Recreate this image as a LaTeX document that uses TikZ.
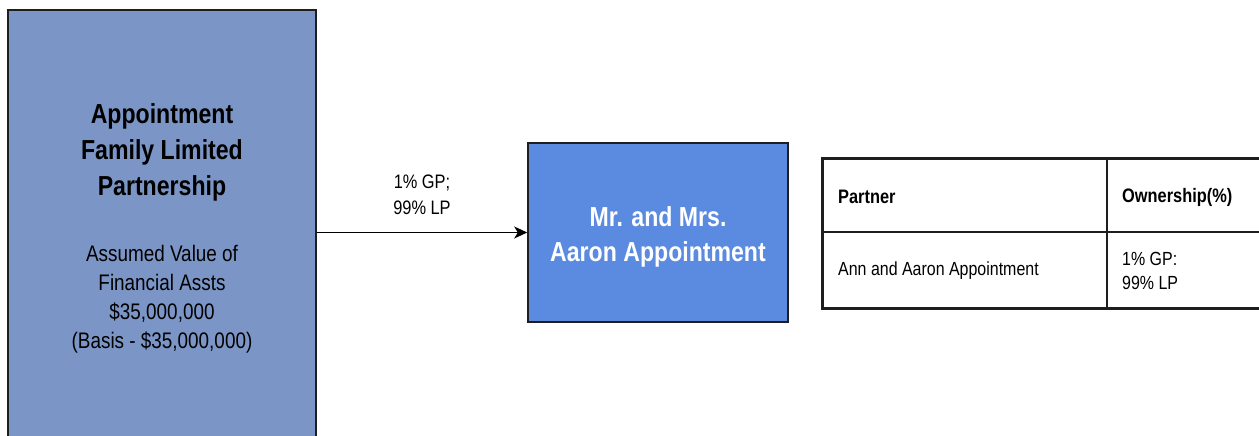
\documentclass[tikz,border=0pt]{standalone}
\usepackage{fontspec}
\setmainfont{Liberation Sans}[FakeStretch=0.84]
\usetikzlibrary{arrows.meta}
\definecolor{famfill}{HTML}{7B96C6}
\definecolor{aaronfill}{HTML}{5B8BE0}
\definecolor{edge}{HTML}{1E1E1E}
\tikzset{
  entity/.style={draw=edge, line width=1.5pt, inner sep=0pt},
  title/.style={font=\bfseries\fontsize{27.5}{36}\selectfont, align=center},
  body/.style={font=\fontsize{22.5}{29}\selectfont, align=center},
  label/.style={font=\fontsize{19.5}{26}\selectfont, align=center},
  cell/.style={font=\fontsize{19}{24}\selectfont, align=left, anchor=west, inner sep=0pt},
  headcell/.style={font=\bfseries\fontsize{19.5}{24}\selectfont, anchor=west, inner sep=0pt},
  link/.style={draw=black, line width=1.4pt, -{Stealth[length=13pt,width=12pt,inset=3.5pt]}}
}
\begin{document}
\begin{tikzpicture}[x=1pt,y=-1pt]
\clip (0,0) rectangle (1259,436);
\fill[white] (0,0) rectangle (1259,436);

% partnership box (runs past the lower edge)
\node[entity, fill=famfill, minimum width=308pt, minimum height=440pt] (fam) at (162,230) {};
\node[title] (famname) at (162,152) {Appointment\\Family Limited\\Partnership};
\node[body] (famvalue) at (162,299) {Assumed Value of\\Financial Assts\\\$35,000,000\\(Basis - \$35,000,000)};

% owners box
\node[entity, fill=aaronfill, minimum width=260pt, minimum height=179pt] (aaron) at (658,232.5) {};
\node[text=white, font=\bfseries\fontsize{27.5}{35}\selectfont, align=center] (aaronname)
      at (658,237) {Mr. and Mrs.\\Aaron Appointment};

% ownership link
\draw[link] (aaron.west -| fam.east) -- (aaron.west);
\node[label] (share) at (422,195) {1\% GP;\\99\% LP};

% ownership table
\coordinate (tl) at (822,158);
\coordinate (br) at (1264,308);
\draw[edge, line width=1.4pt] (822,232) -- (1264,232);
\draw[edge, line width=1.4pt] (1107,158) -- (1107,308);
\draw[edge, line width=3pt] (tl) rectangle (br);
\node[headcell] (hpartner) at (838,197) {Partner};
\node[headcell] (hown) at (1122,197) {Ownership(\%)};
\node[cell] (partner) at (838,271) {Ann and Aaron Appointment};
\node[cell] (own) at (1122,271) {1\% GP:\\99\% LP};
\end{tikzpicture}
\end{document}
